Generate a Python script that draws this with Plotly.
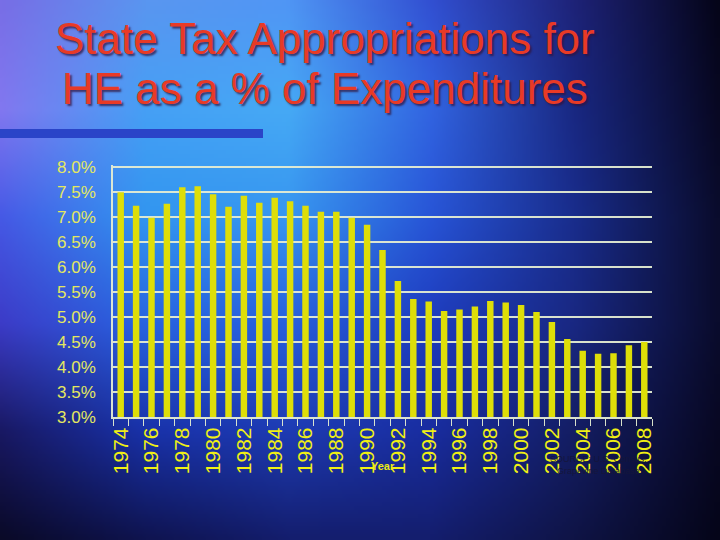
import base64, struct, zlib
import numpy as np
import plotly.graph_objects as go

# ---- data ----
years = list(range(1974, 2009))
pct_values = [7.49, 7.22, 6.98, 7.26, 7.59, 7.61, 7.45, 7.20, 7.42, 7.28,
              7.38, 7.31, 7.22, 7.10, 7.10, 6.98, 6.84, 6.34, 5.72, 5.36,
              5.31, 5.12, 5.15, 5.21, 5.32, 5.29, 5.24, 5.10, 4.90, 4.56,
              4.33, 4.27, 4.28, 4.44, 4.50]
tick_years = list(range(1974, 2009, 2))
y_ticks = [3.0, 3.5, 4.0, 4.5, 5.0, 5.5, 6.0, 6.5, 7.0, 7.5, 8.0]

W, H = 720, 540

# ---- slide background (decorative gradient image) ----
grid = np.array([
    [(120,110,230), (90,150,240), (80,150,245), (50,80,210), (30,35,120), (5,5,25)],
    [(130,120,240), (70,160,245), (70,170,245), (50,100,225), (25,40,130), (8,8,35)],
    [(70,90,230), (50,150,240), (55,150,240), (40,85,215), (25,45,140), (10,12,45)],
    [(60,60,200), (40,100,225), (40,95,220), (30,60,190), (25,40,130), (10,12,45)],
    [(25,25,100), (25,50,170), (30,60,180), (25,45,160), (20,30,100), (8,8,35)],
    [(10,10,40), (15,20,80), (20,30,110), (20,30,110), (15,20,70), (5,5,25)],
], dtype=float)
iw, ih = 180, 135
gy = np.linspace(0, grid.shape[0]-1, ih)
gx = np.linspace(0, grid.shape[1]-1, iw)
y0 = np.clip(np.floor(gy).astype(int), 0, grid.shape[0]-2); fy = (gy-y0)[:, None, None]
x0 = np.clip(np.floor(gx).astype(int), 0, grid.shape[1]-2); fx = (gx-x0)[None, :, None]
a = grid[y0][:, x0]; b = grid[y0][:, x0+1]; c = grid[y0+1][:, x0]; d = grid[y0+1][:, x0+1]
img = (a*(1-fx)*(1-fy) + b*fx*(1-fy) + c*(1-fx)*fy + d*fx*fy).clip(0, 255).astype(np.uint8)

def to_png(arr):
    h, w, _ = arr.shape
    raw = b"".join(b"\x00" + arr[r].tobytes() for r in range(h))
    def chunk(t, data):
        return struct.pack(">I", len(data)) + t + data + struct.pack(">I", zlib.crc32(t + data) & 0xffffffff)
    return (b"\x89PNG\r\n\x1a\n" + chunk(b"IHDR", struct.pack(">IIBBBBB", w, h, 8, 2, 0, 0, 0))
            + chunk(b"IDAT", zlib.compress(raw, 9)) + chunk(b"IEND", b""))

bg_uri = "data:image/png;base64," + base64.b64encode(to_png(img)).decode()

FONT = "Liberation Sans, Arial, sans-serif"

fig = go.Figure()
fig.add_trace(go.Bar(x=years, y=pct_values, width=0.42,
                     marker=dict(color="rgb(222,222,8)", line=dict(width=0))))

fig.add_layout_image(source=bg_uri, xref="paper", yref="paper", x=0, y=1, sizex=1, sizey=1,
                     xanchor="left", yanchor="top", sizing="stretch", layer="below")

def px_x(v): return v / W
def px_y(v): return 1 - v / H

PPU = (417.3 - 166.7) / 5.0   # pixels per 1%
Y_TOP = 8.03
grid_col = "rgba(228,236,210,0.95)"
fig.update_layout(
    width=W, height=H, autosize=False,
    margin=dict(l=0, r=0, t=0, b=0, pad=0, autoexpand=False),
    paper_bgcolor="rgb(20,35,120)", plot_bgcolor="rgba(0,0,0,0)",
    showlegend=False,
    xaxis=dict(domain=[px_x(113), px_x(652)], range=[1973.5, 2008.5],
               tickvals=tick_years, ticktext=[str(y) for y in tick_years],
               tickangle=-90, ticks="", showgrid=False, automargin=False,
               showline=True, linecolor=grid_col, linewidth=1.5,
               tickfont=dict(family=FONT, size=21, color="rgb(240,240,20)"),
               minor=dict(tick0=1973.5, dtick=1, ticks="outside", ticklen=7,
                          tickcolor=grid_col, tickwidth=1.2, showgrid=False),
               fixedrange=True),
    yaxis=dict(domain=[px_y(417.3), px_y(166.7 - (Y_TOP - 8.0) * PPU)], range=[3, Y_TOP],
               tickvals=y_ticks, ticktext=[f"{v:.1f}%" for v in y_ticks],
               ticks="", showgrid=True, gridcolor=grid_col, gridwidth=1.5, automargin=False,
               showline=True, linecolor=grid_col, linewidth=1.5,
               ticklabelstandoff=12,
               tickfont=dict(family=FONT, size=17, color="rgb(228,232,95)"),
               fixedrange=True),
)

# title (with text shadow)
for line, yc in [("State Tax Appropriations for", 38), ("HE as a % of Expenditures", 88)]:
    fig.add_annotation(text=line, xref="paper", yref="paper", x=px_x(325), y=px_y(yc),
                       xanchor="center", yanchor="middle", showarrow=False,
                       font=dict(family=FONT, size=44, color="rgb(232,58,38)",
                                 shadow="2px 2px 2px rgba(50,20,60,0.75)"))

# blue rule under title
fig.add_shape(type="rect", xref="paper", yref="paper", x0=0, x1=px_x(263),
              y0=px_y(138), y1=px_y(129), fillcolor="rgb(42,68,200)", line=dict(width=0),
              layer="below")

# axis title
fig.add_annotation(text="<b>Year</b>", xref="paper", yref="paper", x=px_x(383), y=px_y(466),
                   showarrow=False, xanchor="center", yanchor="middle",
                   font=dict(family=FONT, size=11, color="rgb(235,235,20)"))

# source note
fig.add_annotation(text="SOURCE: U.S. Census,<br>Grapevine Database", xref="paper", yref="paper",
                   x=px_x(598), y=px_y(465), showarrow=False, xanchor="center", yanchor="middle",
                   align="center",
                   font=dict(family=FONT, size=9, color="rgb(20,22,60)"))

fig.write_html("out.html", config={"responsive": False, "displayModeBar": False},
               post_script="document.body.style.margin='0';document.body.style.overflow='hidden';")
